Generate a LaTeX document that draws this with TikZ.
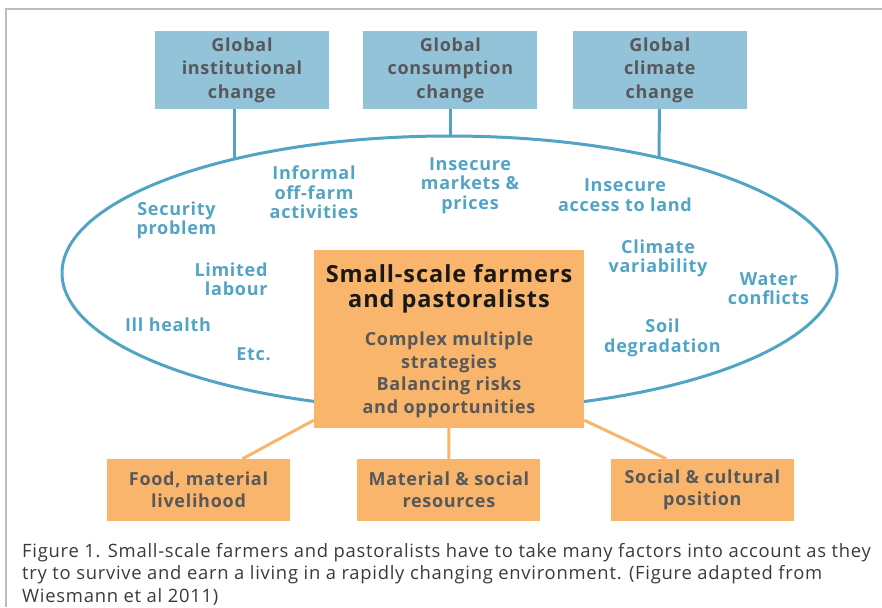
\documentclass[tikz,border=0pt]{standalone}
\usepackage{fontspec}
\setmainfont{Open Sans}[LetterSpace=4]
\usetikzlibrary{positioning}
\usetikzlibrary{shapes.geometric}

\definecolor{skyfill}{HTML}{93C3D9}
\definecolor{skyline}{HTML}{52A4C5}
\definecolor{peach}{HTML}{F9B56B}
\definecolor{slate}{HTML}{58585A}
\definecolor{framegray}{HTML}{BBBCC0}
\definecolor{captext}{HTML}{3A3A3C}

\begin{document}
\begin{tikzpicture}[
        x = 1pt,
        y = -1pt,
        global/.style = {
            fill = skyfill,
            minimum width = 174pt,
            minimum height = 78pt,
            inner sep = 0pt,
            align = center,
            text = slate,
            font = \fontsize{18}{23.5}\selectfont\bfseries
        },
        factor/.style = {
            text = skyline,
            align = #1,
            inner sep = 0pt,
            font = \fontsize{18}{19.5}\selectfont\bfseries
        },
        factor/.default = center,
        ring/.style = {
            draw = skyline,
            line width = 3pt,
            ellipse,
            minimum width = 775pt,
            minimum height = 274pt,
            inner sep = 0pt
        },
        farm/.style = {
            fill = peach,
            minimum width = 270pt,
            minimum height = 178pt,
            inner sep = 0pt
        },
        farmhead/.style = {
            align = center,
            inner sep = 0pt,
            text = black!90,
            font = \fontsize{23.5}{25}\selectfont\bfseries
        },
        farmnote/.style = {
            align = center,
            inner sep = 0pt,
            text = slate,
            font = \fontsize{18}{22.5}\selectfont\bfseries
        },
        outcome/.style = {
            fill = peach,
            minimum width = 183pt,
            minimum height = 62pt,
            inner sep = 0pt,
            align = center,
            text = slate,
            font = \fontsize{18}{22}\selectfont\bfseries
        },
        link/.style = {
            line width = 3pt,
            #1
        }
            ]
            \useasboundingbox (0,0) rectangle (882,607);
            \draw[framegray, line width = 1.5pt] (882,9) -- (6,9) -- (6,607);

            \node[global] (inst) at (242,70) {Global\\institutional\\change};
            \node[global, right=34pt of inst] (consum) {Global\\consumption\\change};
            \node[global, right=35pt of consum] (clim) {Global\\climate\\change};

            \node[ring] (ring) at (449.5,273) {};
            \coordinate (instfoot) at (234,159);
            \coordinate (climfoot) at (659,158);

            \draw[link=skyline] (inst.south -| instfoot) -- (instfoot);
            \draw[link=skyline] (consum) -- (consum |- ring.north);
            \draw[link=skyline] (clim) -- (climfoot);

            \node[factor] (security) at (176.5,220.5) {Security\\problem};
            \node[factor] (offfarm) at (314,192.5) {Informal\\off-farm\\activities};
            \node[factor] (markets) at (470,185.5) {Insecure\\markets \&\\prices};
            \node[factor] (land) at (625,195) {Insecure\\access to land};
            \node[factor=right] (labour) at (231,279) {Limited\\labour};
            \node[factor] (health) at (168,324.5) {Ill health};
            \node[factor] (etc) at (253.5,354.5) {Etc.};
            \node[factor] (climvar) at (658,258.5) {Climate\\variability};
            \node[factor] (water) at (768.5,288.5) {Water\\conflicts};
            \node[factor] (soil) at (662.5,338) {Soil\\degradation};

            \node[farm] (farm) at (449,339) {};
            \node[farmhead] (farmhead) at (449,288.5) {Small-scale farmers\\and pastoralists};
            \node[farmnote] (farmnote) at (449,375) {Complex multiple\\strategies\\Balancing risks\\and opportunities};

            \node[outcome] (food) at (198.5,490) {Food, material\\livelihood};
            \node[outcome, right=67pt of food] (resource) {Material \& social\\resources};
            \node[outcome, right=70pt of resource] (position) {Social \& cultural\\position};

            \draw[link=peach] ([yshift=8pt]farm.south west) -- ([xshift=44pt]food.north);
            \draw[link=peach] (farm) -- (resource);
            \draw[link=peach] ([yshift=8pt]farm.south east) -- ([xshift=-36pt]position.north);

            \node[anchor=north west, align=left, inner sep=0pt, text=captext,
                font=\fontsize{18.4}{22.5}\selectfont] (caption) at (22,543)
                {Figure 1. Small-scale farmers and pastoralists have to take many factors into account as they\\
                 try to survive and earn a living in a rapidly changing environment. (Figure adapted from\\
                 Wiesmann et al 2011)};

        \end{tikzpicture}
\end{document}
